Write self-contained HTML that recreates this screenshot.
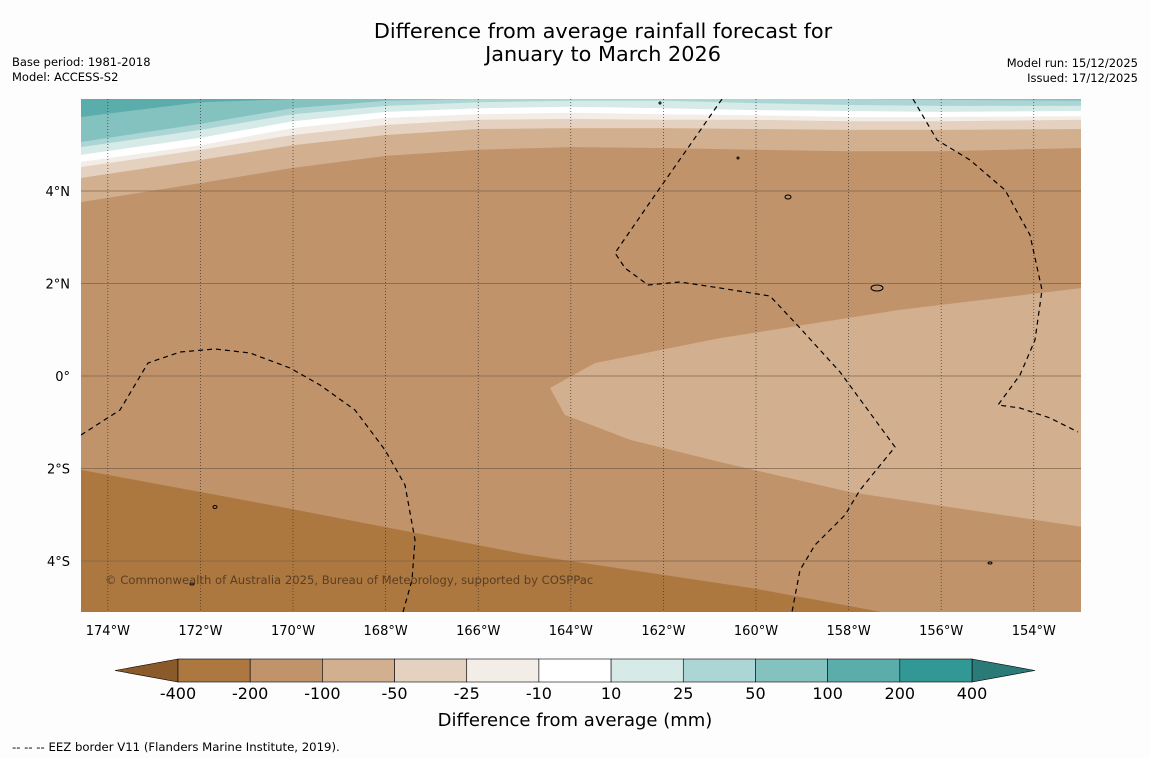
<!DOCTYPE html>
<html><head><meta charset="utf-8"><style>
body{margin:0;background:#fff;width:1150px;height:758px;overflow:hidden;font-family:"DejaVu Sans","Liberation Sans",sans-serif}
svg{display:block;font-family:"DejaVu Sans","Liberation Sans",sans-serif}
</style></head><body>
<svg id="chart" width="1150" height="758" xmlns="http://www.w3.org/2000/svg">
<rect width="1150" height="758" fill="#fdfdfd"/>
<text x="603" y="38" font-size="20.8" text-anchor="middle" fill="#000">Difference from average rainfall forecast for</text>
<text x="603" y="61" font-size="20.8" text-anchor="middle" fill="#000">January to March 2026</text>
<text x="12" y="66" font-size="11.5">Base period: 1981-2018</text>
<text x="12" y="81" font-size="11.5">Model: ACCESS-S2</text>
<text x="1138" y="67" font-size="11.5" text-anchor="end">Model run: 15/12/2025</text>
<text x="1138" y="82" font-size="11.5" text-anchor="end">Issued: 17/12/2025</text>
<defs><clipPath id="mapclip"><rect x="81" y="99" width="1000" height="513"/></clipPath></defs>
<g id="map" clip-path="url(#mapclip)"></g>
<g id="axes"></g>
<g id="cbar"></g>
<text x="575" y="726" font-size="18" text-anchor="middle">Difference from average (mm)</text>
<text x="12" y="751" font-size="11.7">--  --  -- EEZ border V11 (Flanders Marine Institute, 2019).</text>
</svg>
<script>
// map extent
const lonMin=-174.58, lonMax=-152.98, latMin=-5.10, latMax=5.99;
const lonTicks=[-174,-172,-170,-168,-166,-164,-162,-160,-158,-156,-154];
const latTicks=[4,2,0,-2,-4];
const latLabels=["4°N","2°N","0°","2°S","4°S"];
// boundary sample longitudes
const sampleLons=[-174.58,-172,-170,-168,-166,-164,-162,-160,-158,-156,-152.98];
// upper contour boundaries (lat at sampleLons), from -100/-200 upward
const b1=[3.76,4.17,4.50,4.76,4.89,4.95,4.93,4.89,4.86,4.86,4.93];
const b2=[4.28,4.67,4.99,5.21,5.34,5.36,5.36,5.34,5.32,5.32,5.34];
const b3=[4.52,4.89,5.21,5.43,5.54,5.56,5.54,5.54,5.51,5.51,5.54];
const b4=[4.63,4.99,5.36,5.58,5.66,5.69,5.66,5.64,5.60,5.60,5.62];
const b5=[4.78,5.15,5.51,5.71,5.79,5.82,5.79,5.75,5.73,5.71,5.73];
const b6=[4.95,5.32,5.66,5.84,5.92,5.95,5.95,5.90,5.86,5.84,5.84];
const b7=[5.06,5.45,5.79,5.95,5.99,6.05,6.05,6.05,5.99,5.97,5.95];
const b8=[5.60,5.92,5.99,6.1,6.1,6.1,6.1,6.1,6.1,6.1,6.1];
const upperColors=["#d2b08f","#e5d1c0","#f3ede8","#ffffff","#d6eae8","#acd6d5","#84c2c0","#5aadab"];
// lower dry region boundary
const dryLon=[-174.58,-170,-165,-160,-157.3];
const dryLat=[-2.03,-2.88,-3.85,-4.6,-5.1];
// central weaker-dry region polygon
const paleLon=[-152.98,-156.9,-160.78,-163.48,-164.45,-164.13,-162.72,-160.78,-157.97,-152.98];
const paleLat=[1.90,1.43,0.82,0.28,-0.26,-0.84,-1.38,-1.86,-2.51,-3.26];
// colorbar
const cbLevels=["-400","-200","-100","-50","-25","-10","10","25","50","100","200","400"];
const cbColors=["#ad7840","#c0936a","#d2b08f","#e5d1c0","#f3ede8","#ffffff","#d6eae8","#acd6d5","#84c2c0","#5aadab","#329896"];

const NS="http://www.w3.org/2000/svg";
const X0=81,X1=1081,Y0=99,Y1=612;
const xs=lon=>X0+(lon-lonMin)/(lonMax-lonMin)*(X1-X0);
const ys=lat=>376-lat*46.25;
function mk(tag,attrs,parent){const e=document.createElementNS(NS,tag);for(const k in attrs)e.setAttribute(k,attrs[k]);parent.appendChild(e);return e;}
const map=document.getElementById('map');
let r=mk('rect',{x:X0,y:Y0,width:1000,height:513,fill:'#c0936a'},map);


const bounds=[b1,b2,b3,b4,b5,b6,b7,b8];
bounds.forEach((b,i)=>{
  let d='M'+sampleLons.map((l,j)=>xs(l).toFixed(1)+','+ys(b[j]).toFixed(1)).join('L')+'L1081,90L81,90Z';
  const p=mk('path',{d:d,fill:upperColors[i]},map);
  
  
});
{
  let d='M'+dryLon.map((l,j)=>xs(l).toFixed(1)+','+ys(dryLat[j]).toFixed(1)).join('L')+'L81,620Z';
  const p=mk('path',{d:d,fill:'#ad7840'},map);
  
  
}
{
  let d='M'+paleLon.map((l,j)=>xs(l).toFixed(1)+','+ys(paleLat[j]).toFixed(1)).join('L')+'Z';
  const p=mk('path',{d:d,fill:'#d2b08f'},map);
  
  
}
latTicks.forEach(l=>{const g=mk('line',{x1:X0,x2:X1,y1:ys(l),y2:ys(l),stroke:'#7a6048','stroke-width':1,'stroke-opacity':0.7},map);

});
lonTicks.forEach(l=>{const g=mk('line',{x1:xs(l),x2:xs(l),y1:Y0,y2:Y1,stroke:'#333','stroke-width':0.7,'stroke-dasharray':'1,2'},map);

});
const eez=["M81,435L120,410L148,363L180,352L215,349L250,353L290,368L320,385L355,410L385,450L405,485L415,540L412,580L403,612",
"M722,99L690,145L655,195L615,253L625,268L648,285L680,282L720,288L770,296L800,328L840,372L895,447L860,490L845,515L815,545L800,570L792,612",
"M913,99L937,140L970,160L1005,190L1030,235L1042,290L1035,340L1020,375L998,405L1020,408L1050,418L1078,432"];
eez.forEach(d=>{const p=mk('path',{d:d,fill:'none',stroke:'#000','stroke-width':1.2,'stroke-dasharray':'5,4'},map);

});
[[788,197,3,2],[877,288,6,3],[215,507,2,1.5],[192,584,2,1],[990,563,2,1],[660,103,1,1],[738,158,1,1]].forEach(a=>{
const e=mk('ellipse',{cx:a[0],cy:a[1],rx:a[2],ry:a[3],fill:'none',stroke:'#000','stroke-width':1},map);

});
const cp=mk('text',{x:105,y:584,'font-size':11.6,fill:'#5a3e22'},map);
cp.textContent='© Commonwealth of Australia 2025, Bureau of Meteorology, supported by COSPPac';


const axes=document.getElementById('axes');
lonTicks.forEach(l=>{const t=mk('text',{x:xs(l),y:635,'font-size':13,'text-anchor':'middle'},axes);
t.textContent=Math.abs(l)+'°W';

});
latTicks.forEach((l,i)=>{const t=mk('text',{x:70,y:ys(l)+5,'font-size':13,'text-anchor':'end'},axes);
t.textContent=latLabels[i];

});
const cb=document.getElementById('cbar');
const cx0=178,cx1=972,cy0=659,cy1=682,w=(cx1-cx0)/cbColors.length;
let a=mk('path',{d:`M${cx0},${cy0}L115,670.5L${cx0},${cy1}Z`,fill:'#8b5a2b',stroke:'#000','stroke-width':0.6},cb);


a=mk('path',{d:`M${cx1},${cy0}L1035,670.5L${cx1},${cy1}Z`,fill:'#2a7a78',stroke:'#000','stroke-width':0.6},cb);


cbColors.forEach((c,i)=>{const s=mk('rect',{x:cx0+i*w,y:cy0,width:w,height:cy1-cy0,fill:c,stroke:'#000','stroke-width':0.6},cb);

});
cbLevels.forEach((l,i)=>{const t=mk('text',{x:cx0+i*w,y:699,'font-size':16,'text-anchor':'middle'},cb);
t.textContent=l;

});
</script>
</body></html>
